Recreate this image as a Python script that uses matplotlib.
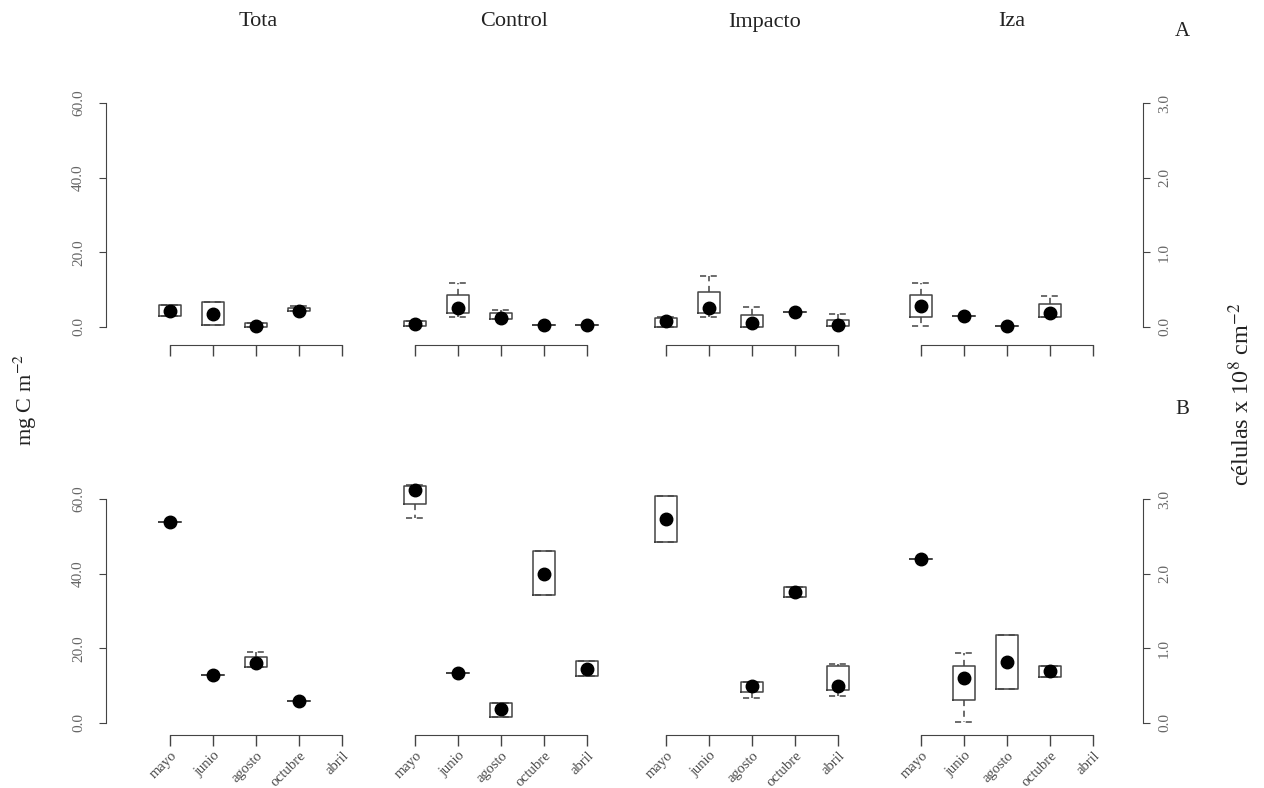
import numpy as np
import matplotlib
matplotlib.use("Agg")
import matplotlib.pyplot as plt

plt.rcParams['font.family'] = ['Liberation Serif', 'DejaVu Serif']
plt.rcParams['mathtext.fontset'] = 'stix'

sitios = ["Tota", "Control", "Impacto", "Iza"]
meses = ["mayo", "junio", "agosto", "octubre", "abril"]
nan = np.nan

# A: filas = sitios, columnas = meses (mg C m-2)
a_min = [[2.9, 0.5, 0.0, 4.2, nan],
         [0.3, 2.8, 2.1, 0.5, 0.5],
         [0.1, 2.6, 0.0, 4.0, 0.4],
         [0.4, 2.9, 0.3, 2.8, nan]]
a_q1 = [[2.9, 0.5, 0.0, 4.2, nan],
        [0.3, 3.8, 2.1, 0.5, 0.5],
        [0.1, 3.7, 0.0, 4.0, 0.4],
        [2.8, 2.9, 0.3, 2.8, nan]]
a_q3 = [[5.9, 6.7, 1.2, 5.2, nan],
        [1.7, 8.6, 3.7, 0.5, 0.5],
        [2.3, 9.4, 3.2, 4.0, 2.0],
        [8.6, 2.9, 0.3, 6.2, nan]]
a_max = [[5.9, 6.7, 1.2, 5.6, nan],
         [1.7, 11.7, 4.6, 0.5, 0.5],
         [2.7, 13.7, 5.3, 4.0, 3.4],
         [11.7, 2.9, 0.3, 8.4, nan]]
a_pt = [[4.3, 3.5, 0.4, 4.4, nan],
        [0.9, 5.2, 2.3, 0.5, 0.5],
        [1.6, 5.1, 1.2, 4.0, 0.6],
        [5.5, 2.9, 0.3, 3.7, nan]]

# B
b_min = [[53.8, 12.9, 15.1, 6.0, nan],
         [54.8, 13.3, 1.7, 34.2, 12.6],
         [48.5, nan, 6.7, 33.7, 7.3],
         [44.0, 0.4, 9.2, 12.3, nan]]
b_q1 = [[53.8, 12.9, 15.1, 6.0, nan],
        [58.6, 13.3, 1.7, 34.2, 12.6],
        [48.5, nan, 8.2, 33.7, 8.8],
        [44.0, 6.2, 9.2, 12.3, nan]]
b_q3 = [[53.8, 12.9, 17.6, 6.0, nan],
        [63.5, 13.3, 5.4, 46.0, 16.5],
        [60.8, nan, 10.9, 36.5, 15.3],
        [44.0, 15.4, 23.7, 15.3, nan]]
b_max = [[53.8, 12.9, 19.0, 6.0, nan],
         [63.8, 13.3, 5.4, 46.0, 16.5],
         [60.8, nan, 10.9, 36.5, 15.7],
         [44.0, 18.7, 23.7, 15.3, nan]]
b_pt = [[53.8, 12.9, 16.2, 6.0, nan],
        [62.4, 13.3, 3.7, 40.0, 14.5],
        [54.6, nan, 9.9, 35.1, 9.9],
        [44.0, 12.1, 16.4, 13.8, nan]]

W, H = 1264, 788
fig = plt.figure(figsize=(W / 100, H / 100), dpi=100)

gris = "#444444"
u = 43.0                      # px por mes
mayo_px = [170, 415, 666, 921]
xlims = [(-0.49, 5.5), (0.5, 5.5), (0.5, 5.5), (0.5, 6.16)]
s = 224 / 60.0                # px por unidad en y
filas = [
    dict(cero=327, ylim=(-4.82, 63), datos=(a_min, a_q1, a_q3, a_max, a_pt), etiquetas=False),
    dict(cero=723, ylim=(-3.2, 65), datos=(b_min, b_q1, b_q3, b_max, b_pt), etiquetas=True),
]

for fila in filas:
    y0, y1 = fila["ylim"]
    vmin, vq1, vq3, vmax, vpt = fila["datos"]
    for i, sitio in enumerate(sitios):
        x0, x1 = xlims[i]
        left = mayo_px[i] + (x0 - 1) * u
        width = (x1 - x0) * u
        bottom = fila["cero"] - y0 * s
        height = (y1 - y0) * s
        ax = fig.add_axes([left / W, 1 - bottom / H, width / W, height / H])
        ax.patch.set_visible(False)

        stats, pos = [], []
        for j in range(len(meses)):
            if np.isnan(vpt[i][j]):
                continue
            stats.append(dict(med=vpt[i][j], q1=vq1[i][j], q3=vq3[i][j],
                              whislo=vmin[i][j], whishi=vmax[i][j], fliers=[]))
            pos.append(j + 1)
        ax.bxp(stats, positions=pos, widths=0.5, capwidths=0.42,
               showfliers=False, manage_ticks=False,
               boxprops=dict(color=gris, linewidth=1.1),
               whiskerprops=dict(color=gris, linewidth=1.1, linestyle=(0, (4, 3))),
               capprops=dict(color=gris, linewidth=1.1, linestyle=(0, (4, 3))),
               medianprops=dict(linestyle="none"))
        ax.plot(pos, [vpt[i][j - 1] for j in pos], "o", color="black",
                markersize=9, zorder=5)

        ax.set_xlim(x0, x1)
        ax.set_ylim(y0, y1)
        for sp in ["top", "right", "left"]:
            ax.spines[sp].set_visible(False)
        ax.spines["bottom"].set_bounds(1, 5)
        ax.spines["bottom"].set_color(gris)
        ax.set_xticks(range(1, 6))
        ax.tick_params(axis="x", length=8, color=gris, width=1.0, labelsize=10.5,
                       labelcolor="#4a4a4a", pad=2)
        if fila["etiquetas"]:
            ax.set_xticklabels(meses, rotation=45, ha="right", va="top",
                               rotation_mode="anchor")
        else:
            ax.set_xticklabels([])

        if i == 0:
            ax.spines["left"].set_visible(True)
            ax.spines["left"].set_bounds(0, 60)
            ax.spines["left"].set_color(gris)
            ax.set_yticks([0, 20, 40, 60])
            ax.set_yticklabels(["%.1f" % v for v in [0, 20, 40, 60]],
                               rotation=90, va="center")
            ax.tick_params(axis="y", length=5, color=gris, pad=10, labelsize=11,
                           labelcolor="#666666")
        else:
            ax.set_yticks([])

        if i == 3:
            ax2 = ax.twinx()
            ax2.patch.set_visible(False)
            ax2.set_ylim(y0 / 20, y1 / 20)
            for sp in ["top", "left", "bottom"]:
                ax2.spines[sp].set_visible(False)
            ax2.spines["right"].set_bounds(0, 3)
            ax2.spines["right"].set_color(gris)
            ax2.set_yticks([0, 1, 2, 3])
            ax2.set_yticklabels(["%.1f" % v for v in [0, 1, 2, 3]],
                                rotation=90, va="center")
            ax2.tick_params(axis="y", length=5, color=gris, pad=6, labelsize=11,
                            labelcolor="#666666")

# titulos de sitio
for nombre, xc in zip(sitios, [258, 514, 765, 1012]):
    fig.text(xc / W, 1 - 22 / H, nombre, ha="center", va="center",
             fontsize=16, color="#222222")

fig.text(1182 / W, 1 - 31 / H, "A", ha="center", va="center", fontsize=15, color="#222222")
fig.text(1182 / W, 1 - 410 / H, "B", ha="center", va="center", fontsize=15, color="#222222")

fig.text(25 / W, 1 - 400 / H, "mg C m$^{-2}$", rotation=90, ha="center", va="center",
         fontsize=16, color="#222222")
fig.text(1241 / W, 1 - 394 / H, "células x 10$^{8}$ cm$^{-2}$", rotation=90,
         ha="center", va="center", fontsize=17.5, color="#222222")

fig.savefig("out.png", dpi=100)
